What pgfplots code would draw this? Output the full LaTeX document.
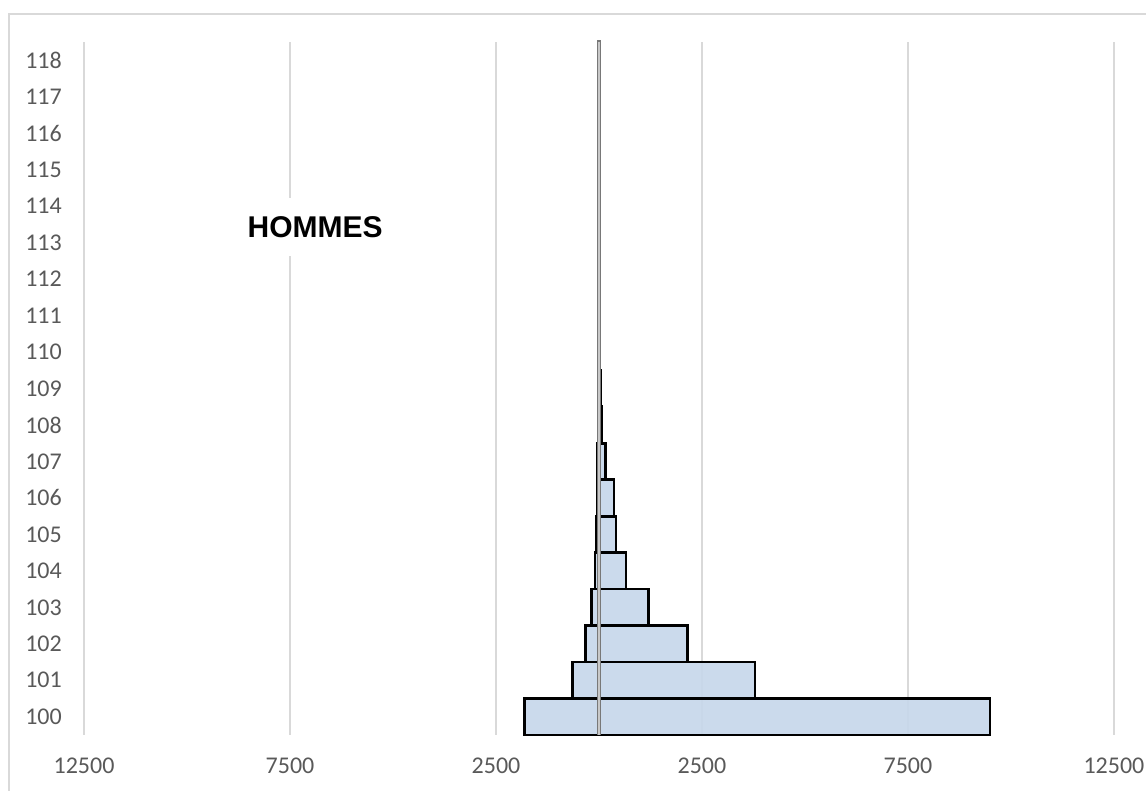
\documentclass[border=0pt]{standalone}
\usepackage{pgfplots}
\pgfplotsset{compat=1.18}
\usepackage{fontspec}
\setmainfont{Carlito}
\newfontfamily\arialfont{Liberation Sans}
\definecolor{barblue}{RGB}{199,215,235}
\definecolor{gridgray}{RGB}{217,217,217}
\definecolor{labgray}{RGB}{89,89,89}
\begin{document}
\begin{tikzpicture}[x=1pt,y=1pt]
\useasboundingbox (0,0) rectangle (1146,791);
\clip (0,0) rectangle (1146,791);
\draw[gridgray, line width=1.6pt] (9,-20) -- (9,777) -- (1170,777);
\begin{axis}[
  at={(84pt,56pt)}, anchor=south west,
  scale only axis, width=1030pt, height=693pt,
  xmin=-12500, xmax=12500, ymin=99.5, ymax=118.5,
  axis line style={draw=none},
  xtick={-12500,-7500,-2500,2500,7500,12500},
  xticklabels={12500,7500,2500,2500,7500,12500},
  ytick={100,...,118},
  yticklabels={100,101,102,103,104,105,106,107,108,109,110,111,112,113,114,115,116,117,118},
  major tick length=0pt,
  xmajorgrids, ymajorgrids=false,
  major grid style={gridgray, line width=1.8pt},
  tick label style={font=\fontsize{24}{24}\selectfont, text=labgray, inner sep=0pt},
  xticklabel style={anchor=north, yshift=-23pt},
  yticklabel style={anchor=east, xshift=-22pt},
  clip=false,
]
\addplot[xbar, bar width=1, bar shift=0pt, fill=barblue, fill opacity=0.93, draw=black, line width=2.7pt]
coordinates {
(-1810,100) (-650,101) (-330,102) (-190,103) (-100,104) (-70,105) (-50,106)
(-35,107) (-25,108) (-15,109) (-8,110) (-5,111) (-3,112) (-2,113) (-1,114)
(-1,115) (-1,116) (-1,117) (-1,118)
};
\addplot[xbar, bar width=1, bar shift=0pt, fill=barblue, fill opacity=0.93, draw=black, line width=2.7pt]
coordinates {
(9490,100) (3790,101) (2140,102) (1210,103) (655,104) (410,105) (365,106)
(150,107) (75,108) (35,109) (20,110) (10,111) (5,112) (3,113) (2,114)
(1,115) (1,116) (1,117) (1,118)
};
\draw[color={rgb,255:red,120;green,120;blue,120}, line width=3.4pt] (axis cs:0,99.5) -- (axis cs:0,118.55);
\draw[color={rgb,255:red,200;green,200;blue,200}, line width=1.4pt] (axis cs:0,99.5) -- (axis cs:0,118.5);
\node[fill=white, inner xsep=4pt, inner ysep=18pt, font=\arialfont\bfseries\fontsize{30}{30}\selectfont] at (axis cs:-6890,113.43) {HOMMES};
\end{axis}
\end{tikzpicture}
\end{document}
